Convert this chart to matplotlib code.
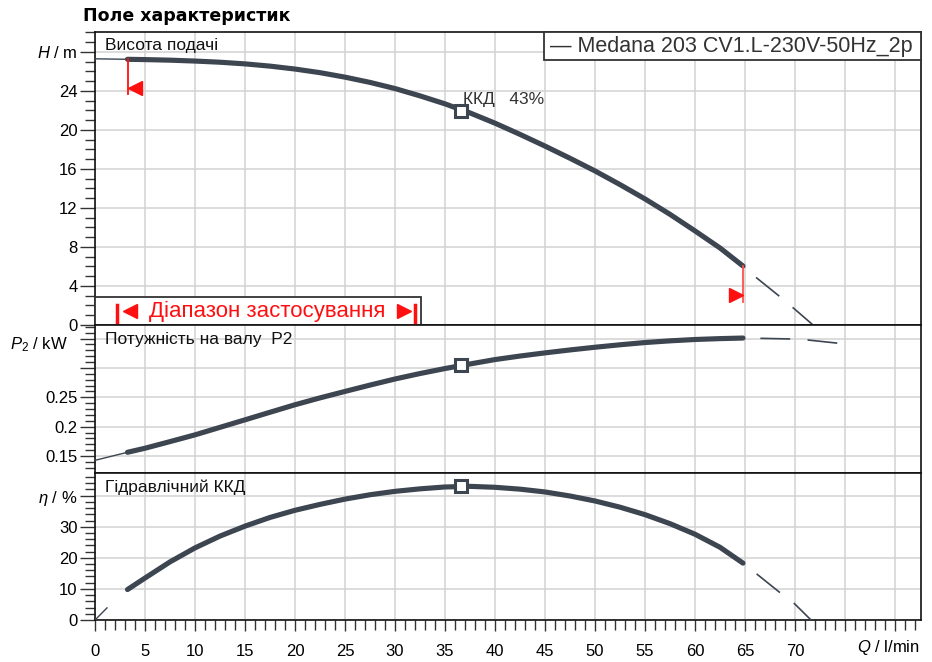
import matplotlib
matplotlib.use('Agg')
import matplotlib.pyplot as plt
from matplotlib.ticker import MultipleLocator, FixedLocator, FixedFormatter, FuncFormatter
from matplotlib.patches import Rectangle

plt.rcParams['font.family'] = ['Liberation Sans', 'DejaVu Sans']
plt.rcParams['mathtext.fontset'] = 'custom'
plt.rcParams['mathtext.rm'] = 'Liberation Sans'
plt.rcParams['mathtext.it'] = 'Liberation Sans:italic'
plt.rcParams['lines.scale_dashes'] = False

# ---------------- data ----------------
q_curve = [3.25, 5, 7.5, 10, 12.5, 15, 17.5, 20, 22.5, 25, 27.5, 30, 32.5, 35,
           37.5, 40, 42.5, 45, 47.5, 50, 52.5, 55, 57.5, 60, 62.5, 64.8]
h_curve = [27.25, 27.22, 27.16, 27.07, 26.95, 26.78, 26.55, 26.25, 25.88, 25.42, 24.88, 24.25, 23.5, 22.68,
           21.75, 20.7, 19.55, 18.35, 17.1, 15.8, 14.4, 12.93, 11.35, 9.65, 7.9, 6.05]
p_curve = [0.1563, 0.1632, 0.1745, 0.186, 0.1988, 0.2116, 0.2245, 0.2373, 0.249, 0.260, 0.2708, 0.2812, 0.2905, 0.2990,
           0.3068, 0.3143, 0.3203, 0.3257, 0.3307, 0.3353, 0.3395, 0.3433, 0.3462, 0.3485, 0.3500, 0.351]
e_curve = [9.8, 13.5, 18.7, 23.2, 27.0, 30.2, 33.0, 35.3, 37.2, 38.9, 40.3, 41.4, 42.2, 42.8,
           43.0, 42.7, 42.1, 41.2, 39.9, 38.3, 36.3, 33.9, 31.0, 27.6, 23.4, 18.3]

q_h_tail = [64.8, 66.2, 68.5, 70.0, 71.8]
h_tail = [6.05, 4.8, 2.9, 1.6, 0.0]
q_p_tail = [64.8, 66.5, 69.6, 71.3, 74.4]
p_tail = [0.351, 0.3505, 0.3494, 0.3476, 0.342]
q_e_tail = [64.8, 66.1, 68.5, 69.9, 71.6]
e_tail = [18.3, 15.0, 8.8, 5.4, 0.0]

q_h_lead = [0, 3.25]
h_lead = [27.3, 27.25]
q_p_lead = [0, 3.25]
p_lead = [0.1426, 0.1563]
q_e_lead = [0, 1.2]
e_lead = [0, 3.9]

q_duty = 36.6
h_duty = 21.95
p_duty = 0.3045
e_duty = 43.0
eff_label = 'ККД   43%'

q_min, q_max = 3.25, 64.8
h_at_min, h_at_max = 27.25, 6.05

h_ticks = [0, 4, 8, 12, 16, 20, 24, 28]
h_labels = ['0', '4', '8', '12', '16', '20', '24', r'$H$ / m']
p_ticks = [0.15, 0.2, 0.25, 0.3, 0.35]
p_labels = ['0.15', '0.2', '0.25', '', '']
e_ticks = [0, 10, 20, 30, 40]
e_labels = ['0', '10', '20', '30', r'$\eta$ / %']

legend_text = '— Medana 203 CV1.L-230V-50Hz_2p'
title_text = 'Поле характеристик'

# ---------------- figure ----------------
CURVE = '#3c4550'
RED = '#ff1010'
fig = plt.figure(figsize=(9.32, 6.62), dpi=100)
L = 95 / 932
Wd = 826 / 932
axH = fig.add_axes([L, 1 - 325 / 662, Wd, 293 / 662])
axP = fig.add_axes([L, 1 - 473 / 662, Wd, 148 / 662])
axE = fig.add_axes([L, 1 - 620 / 662, Wd, 147 / 662])

for ax in (axH, axP, axE):
    ax.set_xlim(0, 82.6)
    ax.xaxis.set_major_locator(MultipleLocator(5))
    ax.xaxis.set_minor_locator(MultipleLocator(1))
    ax.grid(True, which='major', color='#d2d2d2', lw=1.1)
    ax.set_axisbelow(True)
    ax.tick_params(axis='y', which='major', direction='out', length=11, width=1,
                   labelsize=12, pad=1.5, color='#333333')
    ax.tick_params(axis='y', which='minor', direction='out', length=7, width=1, color='#333333')
    for s in ax.spines.values():
        s.set_color('#111111')
        s.set_linewidth(1.2)

for ax in (axH, axP):
    ax.tick_params(axis='x', which='both', bottom=False, labelbottom=False)

axE.tick_params(axis='x', which='major', direction='out', length=8, width=1,
                labelsize=12, pad=9, color='#333333')
axE.tick_params(axis='x', which='minor', direction='out', length=7, width=1, color='#333333')
axE.xaxis.set_major_formatter(FuncFormatter(lambda v, p: '' if v > 71 else f'{v:g}'))

# y axes
axH.set_ylim(0, 30.05)
axH.yaxis.set_major_locator(FixedLocator(h_ticks))
axH.yaxis.set_major_formatter(FixedFormatter(h_labels))
axH.yaxis.set_minor_locator(MultipleLocator(1))

axP.set_ylim(0.121, 0.3732)
axP.yaxis.set_major_locator(FixedLocator(p_ticks))
axP.yaxis.set_major_formatter(FixedFormatter(p_labels))
axP.yaxis.set_minor_locator(MultipleLocator(0.01))

axE.set_ylim(0, 47.3)
axE.yaxis.set_major_locator(FixedLocator(e_ticks))
axE.yaxis.set_major_formatter(FixedFormatter(e_labels))
axE.yaxis.set_minor_locator(MultipleLocator(2))

# curves
lw_main = 3.7
for ax, qc, yc, ql, yl, qt, yt, yd in (
        (axH, q_curve, h_curve, q_h_lead, h_lead, q_h_tail, h_tail, h_duty),
        (axP, q_curve, p_curve, q_p_lead, p_lead, q_p_tail, p_tail, p_duty),
        (axE, q_curve, e_curve, q_e_lead, e_lead, q_e_tail, e_tail, e_duty)):
    ax.plot(qc, yc, color=CURVE, lw=lw_main, solid_capstyle='round', solid_joinstyle='round', zorder=3)
    ax.plot(ql, yl, color=CURVE, lw=1.0, zorder=3)
    ax.plot(qt, yt, color=CURVE, lw=1.2, linestyle=(21.5, (21.5, 12.5)), zorder=3)
    ax.plot([q_duty], [yd], marker='s', ms=8, mfc='white', mec=CURVE, mew=2.2, zorder=6)

# operating-range markers
axH.plot([q_min, q_min], [h_at_min, 23.7], color=RED, lw=1.3, zorder=4)
axH.plot([q_min + 0.75], [24.3], marker='<', ms=10.5, color=RED, mec=RED, zorder=4)
axH.plot([q_max, q_max], [h_at_max, 2.4], color='#ff5050', lw=1.3, zorder=4)
axH.plot([q_max - 0.7], [3.05], marker='>', ms=10.5, color=RED, mec=RED, zorder=4)

# range box
axH.add_patch(Rectangle((0, 0), 0.3947, 0.0956, transform=axH.transAxes,
                        facecolor='white', edgecolor='#333333', lw=1.3, zorder=5, clip_on=False))
axH.plot([0.0266, 0.0266], [0.0, 0.068], transform=axH.transAxes, color=RED, lw=2.5, zorder=6, clip_on=False)
axH.plot([0.3874, 0.3874], [0.0, 0.068], transform=axH.transAxes, color=RED, lw=2.5, zorder=6, clip_on=False)
axH.plot([0.0418], [0.048], marker='<', ms=10, color=RED, transform=axH.transAxes, zorder=6)
axH.plot([0.3735], [0.048], marker='>', ms=10, color=RED, transform=axH.transAxes, zorder=6)
axH.text(0.2082, 0.046, 'Діапазон застосування', transform=axH.transAxes, color=RED,
         fontsize=16, ha='center', va='center', zorder=7)

# legend box
axH.add_patch(Rectangle((0.5436, 0.9044), 0.4564, 0.0956, transform=axH.transAxes,
                        facecolor='white', edgecolor='#333333', lw=1.3, zorder=5, clip_on=False))
axH.text(0.5508, 0.951, legend_text, transform=axH.transAxes, color='#333333',
         fontsize=15.5, ha='left', va='center', zorder=7)

# panel labels
axH.text(0.0121, 0.955, 'Висота подачі', transform=axH.transAxes, fontsize=12.5, va='center', color='#111111')
axP.text(0.0121, 0.899, 'Потужність на валу  P2', transform=axP.transAxes, fontsize=12.5, va='center', color='#111111')
axE.text(0.0121, 0.905, 'Гідравлічний ККД', transform=axE.transAxes, fontsize=12.5, va='center', color='#111111')

axH.text(q_duty + 0.2, 23.1, eff_label, fontsize=12.5, va='center', ha='left', color='#333333', zorder=7)

axP.annotate(r'$P_{2}$ / kW', xy=(0, 0.35), xycoords=('axes fraction', 'data'),
             xytext=(-27, -6), textcoords='offset pixels', ha='right', va='center', fontsize=12)

axE.text(0.9988, -0.19, r'$Q$ / l/min', transform=axE.transAxes, fontsize=12, ha='right', va='center')

fig.text(83 / 932, 1 - 16 / 662, title_text, fontsize=12.5, fontweight='bold',
         family='DejaVu Sans', va='center', ha='left')

fig.savefig('out.png', dpi=100)
